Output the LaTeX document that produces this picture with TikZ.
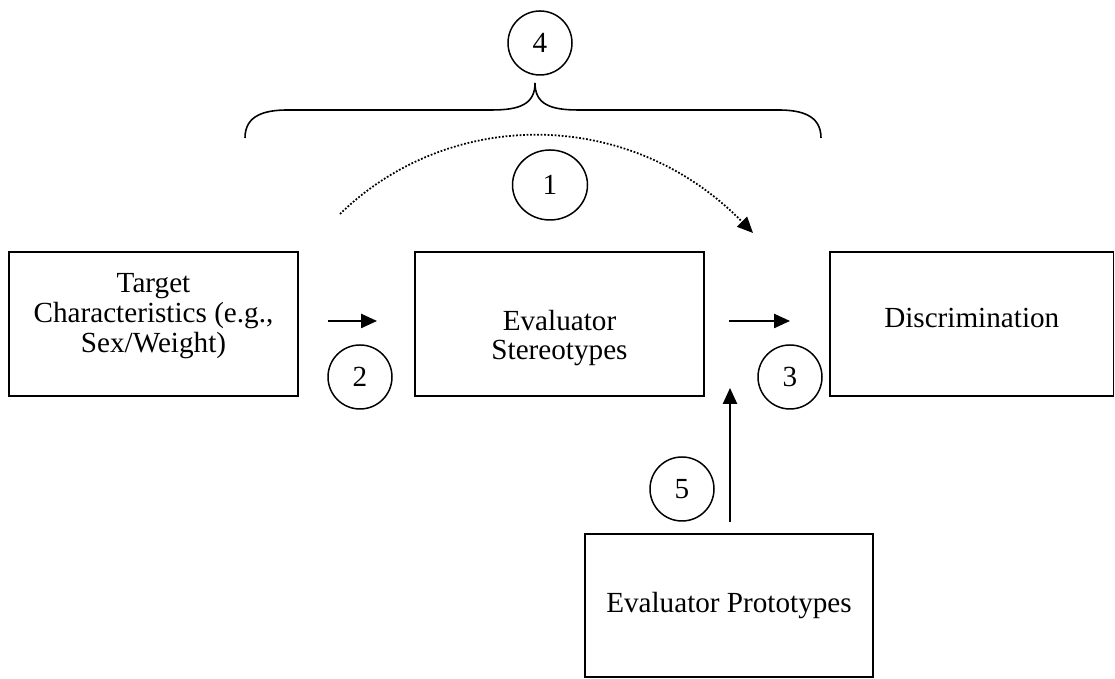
\documentclass[tikz,border=0pt]{standalone}
\usepackage{fontspec}
\setmainfont{Liberation Serif}
\usetikzlibrary{arrows.meta,shapes.geometric}
\begin{document}
\begin{tikzpicture}[every node/.style={font=\fontsize{16.6}{17}\selectfont},
  box/.style={draw, line width=1pt, inner sep=0pt},
  num/.style={draw, circle, line width=0.85pt, minimum size=1.28cm, inner sep=0pt},
  arr/.style={-{Triangle[length=9pt,width=8pt]}, line width=1pt}]
\useasboundingbox (0,0) rectangle (22.3,13.58);
\node[box, minimum width=5.78cm, minimum height=2.88cm] (target) at (3.07,7.10) {};
\node[box, minimum width=5.78cm, minimum height=2.88cm] (stereo) at (11.19,7.10) {};
\node[box, minimum width=5.67cm, minimum height=2.88cm] (discr) at (19.435,7.10) {};
\node[box, minimum width=5.76cm, minimum height=2.86cm] (proto) at (14.58,1.47) {};
\node[align=center] (targettxt) at ([yshift=0.16cm]target.center) {Target\\Characteristics (e.g.,\\Sex/Weight)};
\node[align=center] (stereotxt) at ([yshift=-0.28cm]stereo.center) {Evaluator\\Stereotypes};
\node (discrtxt) at ([yshift=0.12cm]discr.center) {Discrimination};
\node (prototxt) at (proto.center) {Evaluator Prototypes};
\node[num] (n4) at (10.8,12.72) {4};
\node[num, ellipse, minimum width=1.5cm, minimum height=1.4cm] (n1) at (11.0,9.88) {1};
\node[num] (n2) at (7.2,6.04) {2};
\node[num] (n3) at (15.8,6.04) {3};
\node[num] (n5) at (13.64,3.80) {5};
\coordinate (a2s) at (6.56,7.16);
\coordinate (a2e) at (7.54,7.16);
\coordinate (a3s) at (14.58,7.16);
\coordinate (a3e) at (15.8,7.16);
\coordinate (a5s) at (14.6,3.14);
\coordinate (a5e) at (14.6,5.82);
\coordinate (arcs) at (6.8,9.30);
\coordinate (arce) at (15.06,8.92);
\coordinate (brl) at (4.9,10.82);
\coordinate (brr) at (16.42,10.82);
\coordinate (brtip) at (10.7,11.92);
\draw[arr] (a2s) -- (a2e);
\draw[arr] (a3s) -- (a3e);
\draw[arr] (a5s) -- (a5e);
\draw[arr, densely dotted] (arcs) .. controls (9.0,11.44) and (12.6,11.44) .. (arce);
\draw[line width=0.9pt] (brl) .. controls (4.9,11.28) and (5.3,11.38) .. (5.76,11.38) -- (9.84,11.38)
  .. controls (10.4,11.38) and (10.7,11.5) .. (brtip) .. controls (10.7,11.5) and (11.0,11.38) .. (11.56,11.38)
  -- (15.56,11.38) .. controls (16.02,11.38) and (16.42,11.28) .. (brr);
\end{tikzpicture}
\end{document}
